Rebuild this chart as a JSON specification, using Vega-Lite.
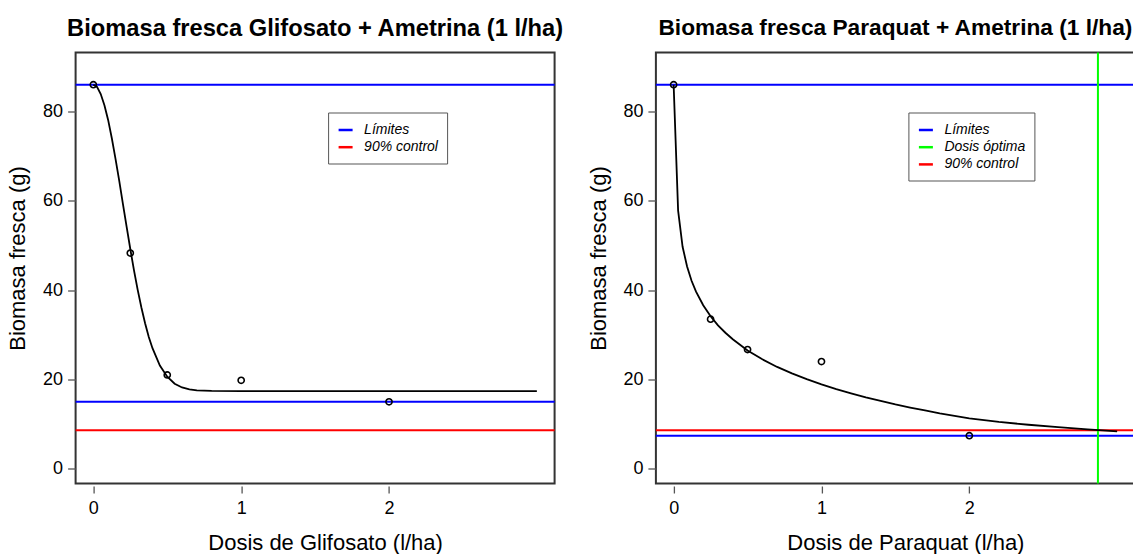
{
  "$schema": "https://vega.github.io/schema/vega-lite/v6.json",
  "autosize": {"type": "pad"},
  "padding": {"left": 5.6, "top": 15.5, "right": 0, "bottom": 0},
  "background": "white",
  "config": {
    "font": "Liberation Sans",
    "view": {"stroke": "#333333", "strokeWidth": 2},
    "axis": {
      "grid": false, "domain": false, "tickColor": "#555555", "tickWidth": 1.3,
      "labelFontSize": 18, "labelColor": "black", "labelFont": "Liberation Sans",
      "titleFontSize": 22, "titleFontWeight": "normal", "titleColor": "black", "titleFont": "Liberation Sans"
    },
    "axisX": {"tickSize": 7, "offset": 2.5, "labelPadding": 7, "titleBaseline": "alphabetic", "titleY": 64, "titleX": 249.5, "format": "d"},
    "axisY": {"tickSize": 8, "labelPadding": 5, "titleBaseline": "alphabetic", "titleX": -50.6, "titleY": 205.5, "format": "d"},
    "legend": {
      "orient": "none", "legendX": 252.5, "legendY": 60,
      "strokeColor": "#555555", "fillColor": "white", "padding": 9,
      "symbolType": "stroke", "symbolSize": 196, "symbolStrokeWidth": 2.5,
      "labelFontSize": 14, "labelFontStyle": "italic", "labelFont": "Liberation Sans", "labelColor": "black",
      "labelOffset": 10, "rowPadding": 1.2
    },
    "title": {"fontWeight": "bold", "color": "black", "anchor": "middle", "frame": "group", "font": "Liberation Sans", "baseline": "alphabetic", "offset": 11.5}
  },
  "datasets": {
    "puntos1": [
      {"dosis": 0, "biomasa": 86},
      {"dosis": 0.25, "biomasa": 48.3},
      {"dosis": 0.5, "biomasa": 21},
      {"dosis": 1, "biomasa": 19.8},
      {"dosis": 2, "biomasa": 15}
    ],
    "curva1": [
      {"dosis": 0, "biomasa": 86},
      {"dosis": 0.025, "biomasa": 85.5},
      {"dosis": 0.05, "biomasa": 83.9},
      {"dosis": 0.075, "biomasa": 81.4},
      {"dosis": 0.1, "biomasa": 78.1},
      {"dosis": 0.125, "biomasa": 74.0},
      {"dosis": 0.15, "biomasa": 69.4},
      {"dosis": 0.175, "biomasa": 64.5},
      {"dosis": 0.2, "biomasa": 59.3},
      {"dosis": 0.225, "biomasa": 54.2},
      {"dosis": 0.25, "biomasa": 49.2},
      {"dosis": 0.275, "biomasa": 44.4},
      {"dosis": 0.3, "biomasa": 40.05},
      {"dosis": 0.325, "biomasa": 36.1},
      {"dosis": 0.35, "biomasa": 32.6},
      {"dosis": 0.375, "biomasa": 29.5},
      {"dosis": 0.4, "biomasa": 27.0},
      {"dosis": 0.45, "biomasa": 23.1},
      {"dosis": 0.5, "biomasa": 20.6},
      {"dosis": 0.55, "biomasa": 19.05},
      {"dosis": 0.6, "biomasa": 18.2},
      {"dosis": 0.65, "biomasa": 17.78},
      {"dosis": 0.7, "biomasa": 17.57},
      {"dosis": 0.8, "biomasa": 17.43},
      {"dosis": 1.0, "biomasa": 17.4},
      {"dosis": 1.5, "biomasa": 17.4},
      {"dosis": 2.0, "biomasa": 17.4},
      {"dosis": 2.5, "biomasa": 17.4},
      {"dosis": 3.0, "biomasa": 17.4}
    ],
    "lineas1": [
      {"valor": 86, "tipo": "Límites"},
      {"valor": 15, "tipo": "Límites"},
      {"valor": 8.6, "tipo": "90% control"}
    ],
    "puntos2": [
      {"dosis": 0, "biomasa": 86},
      {"dosis": 0.25, "biomasa": 33.5},
      {"dosis": 0.5, "biomasa": 26.7},
      {"dosis": 1, "biomasa": 24},
      {"dosis": 2, "biomasa": 7.4}
    ],
    "curva2": [
      {"dosis": 0, "biomasa": 86},
      {"dosis": 0.0303, "biomasa": 57.8},
      {"dosis": 0.0606, "biomasa": 49.7},
      {"dosis": 0.0909, "biomasa": 45.3},
      {"dosis": 0.1212, "biomasa": 42.1},
      {"dosis": 0.1515, "biomasa": 39.65},
      {"dosis": 0.2, "biomasa": 36.6},
      {"dosis": 0.25, "biomasa": 34.15},
      {"dosis": 0.3, "biomasa": 32.1},
      {"dosis": 0.35, "biomasa": 30.45},
      {"dosis": 0.4, "biomasa": 29.0},
      {"dosis": 0.5, "biomasa": 26.5},
      {"dosis": 0.6, "biomasa": 24.5},
      {"dosis": 0.7, "biomasa": 22.8},
      {"dosis": 0.8, "biomasa": 21.35},
      {"dosis": 0.9, "biomasa": 20.06},
      {"dosis": 1.0, "biomasa": 18.9},
      {"dosis": 1.1, "biomasa": 17.85},
      {"dosis": 1.2, "biomasa": 16.9},
      {"dosis": 1.3, "biomasa": 16.0},
      {"dosis": 1.4, "biomasa": 15.2},
      {"dosis": 1.5, "biomasa": 14.4},
      {"dosis": 1.6, "biomasa": 13.7},
      {"dosis": 1.7, "biomasa": 13.06},
      {"dosis": 1.8, "biomasa": 12.4},
      {"dosis": 1.9, "biomasa": 11.84},
      {"dosis": 2.0, "biomasa": 11.3},
      {"dosis": 2.2, "biomasa": 10.5},
      {"dosis": 2.4, "biomasa": 9.85},
      {"dosis": 2.6, "biomasa": 9.3},
      {"dosis": 2.8, "biomasa": 8.8},
      {"dosis": 3.0, "biomasa": 8.35}
    ],
    "lineas2h": [
      {"valor": 86, "tipo": "Límites"},
      {"valor": 7.4, "tipo": "Límites"},
      {"valor": 8.6, "tipo": "90% control"}
    ],
    "lineas2v": [
      {"valor": 2.87, "tipo": "Dosis óptima"}
    ]
  },
  "spacing": 101.3,
  "bounds": "flush",
  "resolve": {
    "scale": {"color": "independent", "x": "independent", "y": "independent"},
    "legend": {"color": "independent"}
  },
  "hconcat": [
    {
      "width": 479,
      "height": 431,
      "title": {"text": "Biomasa fresca Glifosato + Ametrina (1 l/ha)", "fontSize": 23.7},
      "layer": [
        {
          "data": {"name": "lineas1"},
          "mark": {"type": "rule", "strokeWidth": 2},
          "encoding": {
            "y": {"field": "valor", "type": "quantitative", "scale": {"domain": [-3.3, 93.2], "nice": false, "zero": false},
                  "axis": {"values": [0, 20, 40, 60, 80], "title": "Biomasa fresca (g)"}},
            "color": {"field": "tipo", "type": "nominal",
                      "scale": {"domain": ["Límites", "90% control"], "range": ["#0000FF", "#FF0000"]},
                      "legend": {"title": null}}
          }
        },
        {
          "data": {"name": "curva1"},
          "mark": {"type": "line", "color": "black", "strokeWidth": 1.8, "interpolate": "linear"},
          "encoding": {
            "x": {"field": "dosis", "type": "quantitative", "scale": {"domain": [-0.12, 3.12], "nice": false, "zero": false},
                  "axis": {"values": [0, 1, 2], "title": "Dosis de Glifosato (l/ha)"}},
            "y": {"field": "biomasa", "type": "quantitative"}
          }
        },
        {
          "data": {"name": "puntos1"},
          "mark": {"type": "point", "shape": "circle", "filled": false, "color": "black", "strokeWidth": 1.6, "size": 38, "opacity": 1},
          "encoding": {
            "x": {"field": "dosis", "type": "quantitative"},
            "y": {"field": "biomasa", "type": "quantitative"}
          }
        }
      ]
    },
    {
      "width": 479,
      "height": 431,
      "title": {"text": "Biomasa fresca Paraquat + Ametrina (1 l/ha)", "fontSize": 22.7},
      "layer": [
        {
          "data": {"name": "lineas2h"},
          "mark": {"type": "rule", "strokeWidth": 2},
          "encoding": {
            "y": {"field": "valor", "type": "quantitative", "scale": {"domain": [-3.3, 93.2], "nice": false, "zero": false},
                  "axis": {"values": [0, 20, 40, 60, 80], "title": "Biomasa fresca (g)"}},
            "color": {"field": "tipo", "type": "nominal",
                      "scale": {"domain": ["Límites", "Dosis óptima", "90% control"], "range": ["#0000FF", "#00FF00", "#FF0000"]},
                      "legend": {"title": null}}
          }
        },
        {
          "data": {"name": "lineas2v"},
          "mark": {"type": "rule", "strokeWidth": 2},
          "encoding": {
            "x": {"field": "valor", "type": "quantitative", "scale": {"domain": [-0.12, 3.12], "nice": false, "zero": false},
                  "axis": {"values": [0, 1, 2], "title": "Dosis de Paraquat (l/ha)"}},
            "color": {"field": "tipo", "type": "nominal"}
          }
        },
        {
          "data": {"name": "curva2"},
          "mark": {"type": "line", "color": "black", "strokeWidth": 1.8, "interpolate": "linear"},
          "encoding": {
            "x": {"field": "dosis", "type": "quantitative"},
            "y": {"field": "biomasa", "type": "quantitative"}
          }
        },
        {
          "data": {"name": "puntos2"},
          "mark": {"type": "point", "shape": "circle", "filled": false, "color": "black", "strokeWidth": 1.6, "size": 38, "opacity": 1},
          "encoding": {
            "x": {"field": "dosis", "type": "quantitative"},
            "y": {"field": "biomasa", "type": "quantitative"}
          }
        }
      ]
    }
  ]
}
